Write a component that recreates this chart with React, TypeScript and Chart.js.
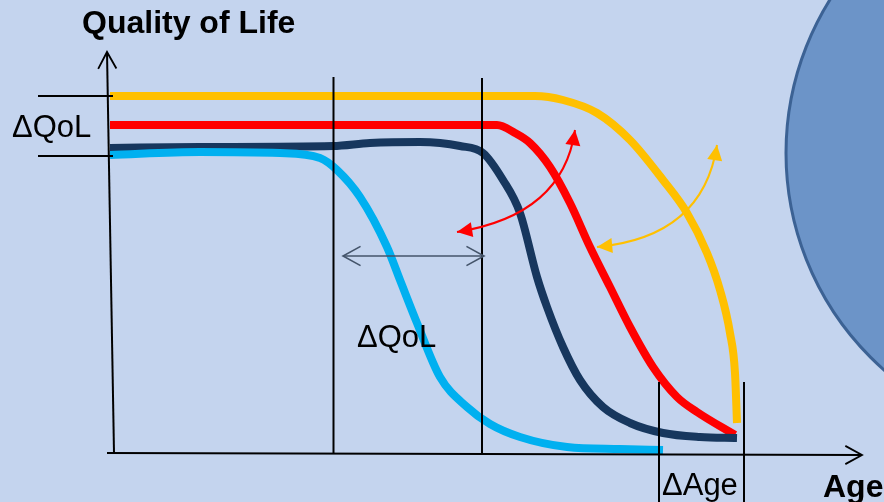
import React, { useEffect, useRef } from "react";
import { Chart, registerables } from "chart.js";

Chart.register(...registerables);

// Conceptual units: Age from the y-axis origin, Quality of Life from the x-axis.
const yellowAge = [-3, 422, 450, 484, 517, 550, 574, 594, 607, 617, 622, 624];
const yellowQol = [357, 357, 353, 340, 313, 273, 240, 200, 163, 120, 80, 30];

const redAge = [-3, 384, 402, 417, 437, 457, 477, 497, 517, 540, 564, 584, 622];
const redQol = [328, 328, 320, 310, 286, 250, 206, 166, 126, 86, 56, 41, 18];

const navyAge = [-3, 87, 220, 257, 307, 347, 370, 390, 407, 424, 434, 450, 467, 490, 517, 550, 587, 624];
const navyQol = [305, 306, 307, 310, 311, 307, 300, 273, 240, 176, 146, 106, 73, 46, 30, 20, 16, 15];

const cyanAge = [-3, 87, 167, 207, 224, 247, 274, 287, 304, 327, 354, 377, 407, 454, 507, 550];
const cyanQol = [298, 301, 300, 295, 283, 256, 206, 173, 130, 76, 46, 29, 16, 6, 4, 3];

// Guide positions (in the same units)
const guideAges = [220.5, 369];
const deltaAgeLines = [546, 631];
const deltaQolLevels = [357, 297];

const labels = {
  yTitle: "Quality of Life",
  xTitle: "Age",
  dQol: "ΔQoL",
  dAge: "ΔAge",
};

const toPts = (a: number[], q: number[]) => a.map((x, i) => ({ x, y: q[i] }));

export default function App() {
  const ref = useRef<HTMLCanvasElement | null>(null);

  useEffect(() => {
    document.body.style.margin = "0";
    const canvas = ref.current!;
    const deco = {
      id: "deco",
      beforeDraw(chart: any) {
        const c = chart.ctx;
        c.save();
        c.fillStyle = "#C4D4EE";
        c.fillRect(0, 0, chart.width, chart.height);
        c.restore();
      },
      beforeDatasetsDraw(chart: any) {
        const c = chart.ctx;
        const xs = chart.scales.x, ys = chart.scales.y;
        const X = (v: number) => xs.getPixelForValue(v);
        const Y = (v: number) => ys.getPixelForValue(v);
        c.save();
        const r = X(962 + 289) - X(962);
        c.beginPath();
        c.arc(X(962), Y(300), r, 0, Math.PI * 2);
        c.fillStyle = "#6C94C8";
        c.fill();
        c.lineWidth = 3;
        c.strokeStyle = "#3C6294";
        c.stroke();
        c.restore();
      },
      afterDatasetsDraw(chart: any) {
        const c = chart.ctx;
        const xs = chart.scales.x, ys = chart.scales.y;
        const X = (v: number) => xs.getPixelForValue(v);
        const Y = (v: number) => ys.getPixelForValue(v);
        c.save();
        const line = (x1: number, y1: number, x2: number, y2: number, col = "#000", w = 2) => {
          c.beginPath();
          c.moveTo(X(x1), Y(y1));
          c.lineTo(X(x2), Y(y2));
          c.strokeStyle = col;
          c.lineWidth = w;
          c.stroke();
        };
        // guides
        guideAges.forEach((a, i) => line(a, 0, a, i === 0 ? 376 : 375));
        deltaAgeLines.forEach((a) => line(a, 71, a, -49));
        deltaQolLevels.forEach((q) => line(-75, q, 0, q, "#000", 1.8));
        // axes
        line(1, 0, -6, 401);
        line(-6, 0, 749, -2);
        // open arrow heads
        const openHead = (tx: number, ty: number, ang: number, len: number, spread: number, col: string, w: number) => {
          c.beginPath();
          const px = X(tx), py = Y(ty);
          c.moveTo(px - len * Math.cos(ang - spread), py - len * Math.sin(ang - spread));
          c.lineTo(px, py);
          c.lineTo(px - len * Math.cos(ang + spread), py - len * Math.sin(ang + spread));
          c.strokeStyle = col;
          c.lineWidth = w;
          c.stroke();
        };
        openHead(-6, 401, Math.atan2(Y(401) - Y(0), X(-6) - X(1)), 19, 0.5, "#000", 1.8);
        openHead(749, -2, 0, 19, 0.5, "#000", 1.8);
        // horizontal double arrow
        line(230, 197, 371, 197, "#44546A", 1.6);
        openHead(230, 197, Math.PI, 20, 0.5, "#44546A", 1.6);
        openHead(371, 197, 0, 20, 0.5, "#44546A", 1.6);
        // curved double arrows
        const curved = (p0: number[], cp: number[], p1: number[], col: string) => {
          const ax = X(p0[0]), ay = Y(p0[1]);
          const cx = X(cp[0]), cy = Y(cp[1]);
          const bx = X(p1[0]), by = Y(p1[1]);
          const head = (tx: number, ty: number, fx: number, fy: number) => {
            const ang = Math.atan2(ty - fy, tx - fx);
            const len = 17, half = 0.46;
            c.beginPath();
            c.moveTo(tx, ty);
            c.lineTo(tx - len * Math.cos(ang - half), ty - len * Math.sin(ang - half));
            c.lineTo(tx - len * Math.cos(ang + half), ty - len * Math.sin(ang + half));
            c.closePath();
            c.fillStyle = col;
            c.fill();
          };
          c.beginPath();
          c.moveTo(ax, ay);
          c.quadraticCurveTo(cx, cy, bx, by);
          c.strokeStyle = col;
          c.lineWidth = 2;
          c.stroke();
          head(ax, ay, cx, cy);
          head(bx, by, cx, cy);
        };
        curved([344, 221], [450, 238], [462, 323], "#FF0000");
        curved([484, 206], [590, 216], [604, 308], "#FFC000");
        // text
        c.fillStyle = "#000";
        c.textBaseline = "alphabetic";
        c.textAlign = "left";
        c.font = "bold 32px 'Liberation Sans', Arial, sans-serif";
        c.fillText(labels.yTitle, X(-31), Y(420));
        c.fillText(labels.xTitle, X(710), Y(-44));
        c.font = "31px 'Liberation Sans', Arial, sans-serif";
        c.fillText(labels.dQol, X(-101), Y(316));
        c.fillText(labels.dQol, X(244), Y(106));
        c.fillText(labels.dAge, X(549), Y(-42));
        c.restore();
      },
    };
    const ds = (data: any, color: string) => ({
      data,
      borderColor: color,
      borderWidth: 8,
      borderCapStyle: "butt",
      borderJoinStyle: "round",
      pointRadius: 0,
      cubicInterpolationMode: "monotone",
      fill: false,
    });
    const chart = new Chart(canvas, {
      type: "line",
      data: {
        datasets: [
          ds(toPts(cyanAge, cyanQol), "#00B0F0"),
          ds(toPts(navyAge, navyQol), "#17375E"),
          ds(toPts(redAge, redQol), "#FF0000"),
          ds(toPts(yellowAge, yellowQol), "#FFC000"),
        ] as any,
      },
      options: {
        animation: false,
        responsive: false,
        devicePixelRatio: 1,
        layout: { padding: 0 },
        plugins: { legend: { display: false }, tooltip: { enabled: false } },
        scales: {
          x: { type: "linear", min: -113, max: 771, display: false },
          y: { type: "linear", min: -49, max: 453, display: false },
        },
      } as any,
      plugins: [deco],
    });
    return () => chart.destroy();
  }, []);

  return (
    <div style={{ width: 884, height: 502 }}>
      <canvas ref={ref} width={884} height={502} style={{ display: "block" }} />
    </div>
  );
}
